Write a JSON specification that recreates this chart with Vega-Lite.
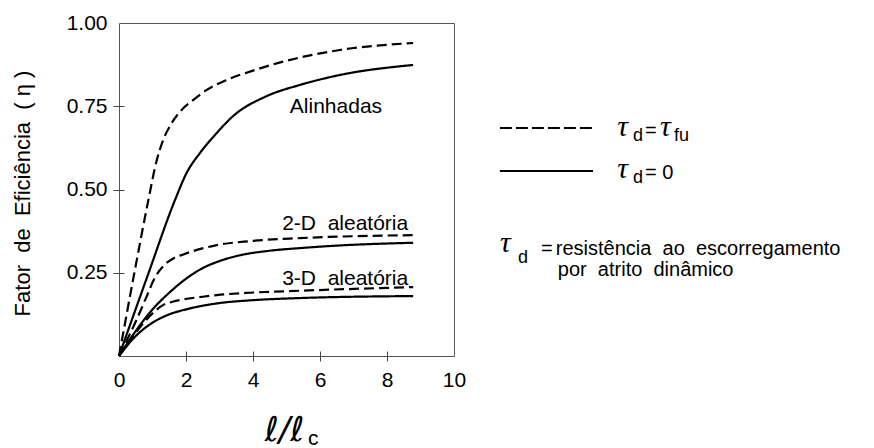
{
  "$schema": "https://vega.github.io/schema/vega-lite/v6.json",
  "width": 335,
  "height": 333,
  "autosize": {"type": "none"},
  "padding": {"left": 119, "top": 23, "right": 420, "bottom": 92},
  "background": "white",
  "config": {
    "view": {"stroke": "#555", "strokeWidth": 1},
    "font": "Liberation Sans",
    "axis": {"grid": false, "domain": false, "labelFont": "Liberation Sans", "labelFontSize": 21, "labelColor": "black", "labelFlush": false, "labelOverlap": false, "tickColor": "#444", "tickWidth": 1, "titleColor": "black"}
  },
  "datasets": {
    "curves": [
      {"series": "Alinhadas", "cond": "fu", "x": 0, "y": 0},
      {"series": "Alinhadas", "cond": "fu", "x": 0.45, "y": 0.245},
      {"series": "Alinhadas", "cond": "fu", "x": 0.88, "y": 0.47},
      {"series": "Alinhadas", "cond": "fu", "x": 1.12, "y": 0.585},
      {"series": "Alinhadas", "cond": "fu", "x": 1.32, "y": 0.649},
      {"series": "Alinhadas", "cond": "fu", "x": 1.57, "y": 0.699},
      {"series": "Alinhadas", "cond": "fu", "x": 1.87, "y": 0.739},
      {"series": "Alinhadas", "cond": "fu", "x": 2.22, "y": 0.769},
      {"series": "Alinhadas", "cond": "fu", "x": 2.62, "y": 0.799},
      {"series": "Alinhadas", "cond": "fu", "x": 3.21, "y": 0.829},
      {"series": "Alinhadas", "cond": "fu", "x": 3.91, "y": 0.854},
      {"series": "Alinhadas", "cond": "fu", "x": 4.9, "y": 0.884},
      {"series": "Alinhadas", "cond": "fu", "x": 6.6, "y": 0.919},
      {"series": "Alinhadas", "cond": "fu", "x": 8.78, "y": 0.94},
      {"series": "Alinhadas", "cond": "0", "x": 0, "y": 0},
      {"series": "Alinhadas", "cond": "0", "x": 0.85, "y": 0.24},
      {"series": "Alinhadas", "cond": "0", "x": 1.67, "y": 0.468},
      {"series": "Alinhadas", "cond": "0", "x": 2.02, "y": 0.55},
      {"series": "Alinhadas", "cond": "0", "x": 2.42, "y": 0.61},
      {"series": "Alinhadas", "cond": "0", "x": 2.92, "y": 0.67},
      {"series": "Alinhadas", "cond": "0", "x": 3.4, "y": 0.72},
      {"series": "Alinhadas", "cond": "0", "x": 4.4, "y": 0.78},
      {"series": "Alinhadas", "cond": "0", "x": 5.4, "y": 0.814},
      {"series": "Alinhadas", "cond": "0", "x": 6.6, "y": 0.844},
      {"series": "Alinhadas", "cond": "0", "x": 8.78, "y": 0.874},
      {"series": "2D", "cond": "fu", "x": 0, "y": 0},
      {"series": "2D", "cond": "fu", "x": 0.53, "y": 0.11},
      {"series": "2D", "cond": "fu", "x": 0.83, "y": 0.18},
      {"series": "2D", "cond": "fu", "x": 1.07, "y": 0.235},
      {"series": "2D", "cond": "fu", "x": 1.32, "y": 0.27},
      {"series": "2D", "cond": "fu", "x": 1.62, "y": 0.293},
      {"series": "2D", "cond": "fu", "x": 1.92, "y": 0.305},
      {"series": "2D", "cond": "fu", "x": 2.92, "y": 0.333},
      {"series": "2D", "cond": "fu", "x": 3.9, "y": 0.345},
      {"series": "2D", "cond": "fu", "x": 5.4, "y": 0.354},
      {"series": "2D", "cond": "fu", "x": 8.78, "y": 0.363},
      {"series": "2D", "cond": "0", "x": 0, "y": 0},
      {"series": "2D", "cond": "0", "x": 0.5, "y": 0.075},
      {"series": "2D", "cond": "0", "x": 1.0, "y": 0.14},
      {"series": "2D", "cond": "0", "x": 1.5, "y": 0.19},
      {"series": "2D", "cond": "0", "x": 2.0, "y": 0.232},
      {"series": "2D", "cond": "0", "x": 2.5, "y": 0.264},
      {"series": "2D", "cond": "0", "x": 3.0, "y": 0.285},
      {"series": "2D", "cond": "0", "x": 3.5, "y": 0.3},
      {"series": "2D", "cond": "0", "x": 4.4, "y": 0.315},
      {"series": "2D", "cond": "0", "x": 5.4, "y": 0.324},
      {"series": "2D", "cond": "0", "x": 6.6, "y": 0.332},
      {"series": "2D", "cond": "0", "x": 8.78, "y": 0.34},
      {"series": "3D", "cond": "fu", "x": 0, "y": 0},
      {"series": "3D", "cond": "fu", "x": 0.5, "y": 0.07},
      {"series": "3D", "cond": "fu", "x": 1.0, "y": 0.128},
      {"series": "3D", "cond": "fu", "x": 1.3, "y": 0.152},
      {"series": "3D", "cond": "fu", "x": 1.6, "y": 0.163},
      {"series": "3D", "cond": "fu", "x": 1.92, "y": 0.17},
      {"series": "3D", "cond": "fu", "x": 2.5, "y": 0.178},
      {"series": "3D", "cond": "fu", "x": 2.92, "y": 0.183},
      {"series": "3D", "cond": "fu", "x": 3.9, "y": 0.19},
      {"series": "3D", "cond": "fu", "x": 5.4, "y": 0.196},
      {"series": "3D", "cond": "fu", "x": 8.78, "y": 0.207},
      {"series": "3D", "cond": "0", "x": 0, "y": 0},
      {"series": "3D", "cond": "0", "x": 0.5, "y": 0.06},
      {"series": "3D", "cond": "0", "x": 1.0, "y": 0.1},
      {"series": "3D", "cond": "0", "x": 1.5, "y": 0.125},
      {"series": "3D", "cond": "0", "x": 2.0, "y": 0.14},
      {"series": "3D", "cond": "0", "x": 2.5, "y": 0.151},
      {"series": "3D", "cond": "0", "x": 3.0, "y": 0.159},
      {"series": "3D", "cond": "0", "x": 3.9, "y": 0.167},
      {"series": "3D", "cond": "0", "x": 5.4, "y": 0.174},
      {"series": "3D", "cond": "0", "x": 8.78, "y": 0.18}
    ],
    "legend_lines": [
      {"cond": "fu", "x": 11.37, "y": 0.6847},
      {"cond": "fu", "x": 14.15, "y": 0.6847},
      {"cond": "0", "x": 11.37, "y": 0.5556},
      {"cond": "0", "x": 14.15, "y": 0.5556}
    ],
    "curve_labels": [
      {"x": 5.1, "y": 0.73, "text": "Alinhadas"},
      {"x": 4.87, "y": 0.378, "text": "2-D\u00a0 aleatória"},
      {"x": 4.87, "y": 0.213, "text": "3-D\u00a0 aleatória"},
      {"x": 5.64, "y": -0.267, "text": "c"}
    ],
    "legend_text": [
      {"x": 15.7, "y": 0.6577, "text": "="},
      {"x": 15.7, "y": 0.5315, "text": "= 0"},
      {"x": 12.6, "y": 0.3033, "text": "="},
      {"x": 13.04, "y": 0.3033, "text": "resistência\u00a0 ao\u00a0 escorregamento"},
      {"x": 13.1, "y": 0.2402, "text": "por\u00a0 atrito\u00a0 dinâmico"}
    ],
    "tau": [
      {"x": 14.87, "y": 0.6607, "text": "τ"},
      {"x": 16.15, "y": 0.6607, "text": "τ"},
      {"x": 14.87, "y": 0.5345, "text": "τ"},
      {"x": 11.37, "y": 0.3123, "text": "τ"}
    ],
    "subs": [
      {"x": 15.34, "y": 0.6456, "text": "d"},
      {"x": 16.57, "y": 0.6456, "text": "fu"},
      {"x": 15.34, "y": 0.5195, "text": "d"},
      {"x": 11.91, "y": 0.2793, "text": "d"}
    ]
  },
  "encoding": {
    "x": {
      "field": "x", "type": "quantitative",
      "scale": {"domain": [0, 10], "nice": false, "zero": false},
      "axis": {
        "values": [0, 2, 4, 6, 8, 10], "format": "d", "offset": -5, "tickSize": 10, "labelPadding": 8,
        "tickOpacity": {"condition": {"test": "datum.value == 0 || datum.value == 10", "value": 0}, "value": 1},
        "title": "ℓ/ℓ", "titleFont": "DejaVu Sans", "titleFontStyle": "italic", "titleFontWeight": 200, "titleFontSize": 34,
        "titleX": 165, "titleY": 89, "titleBaseline": "alphabetic", "titleAlign": "center"
      }
    },
    "y": {
      "field": "y", "type": "quantitative",
      "scale": {"domain": [0, 1], "nice": false, "zero": false},
      "axis": {
        "values": [0.25, 0.5, 0.75, 1], "format": ".2f", "offset": -5, "tickSize": 11, "labelPadding": 6,
        "tickOpacity": {"condition": {"test": "datum.value == 1", "value": 0}, "value": 1},
        "title": "Fator\u00a0 de\u00a0 Eficiência\u00a0 ( η )", "titleFont": "Liberation Sans", "titleFontWeight": "normal", "titleFontSize": 22,
        "titleX": -102, "titleY": 170, "titleAngle": -90, "titleBaseline": "middle", "titleAlign": "center"
      }
    }
  },
  "layer": [
    {
      "data": {"name": "curves"},
      "mark": {"type": "line", "color": "black", "strokeWidth": 2.2, "interpolate": "monotone"},
      "encoding": {
        "detail": {"field": "series"},
        "strokeDash": {"field": "cond", "type": "nominal", "scale": {"domain": ["fu", "0"], "range": [[10, 5], [1, 0]]}, "legend": null}
      }
    },
    {
      "data": {"name": "legend_lines"},
      "transform": [{"filter": "datum.cond == 'fu'"}],
      "mark": {"type": "line", "color": "black", "strokeWidth": 2.2, "strokeDash": [12, 4]},
      "encoding": {}
    },
    {
      "data": {"name": "legend_lines"},
      "transform": [{"filter": "datum.cond == '0'"}],
      "mark": {"type": "line", "color": "black", "strokeWidth": 2.2},
      "encoding": {}
    },
    {
      "data": {"name": "curve_labels"},
      "mark": {"type": "text", "align": "left", "baseline": "alphabetic", "fontSize": 21, "font": "Liberation Sans", "color": "black"},
      "encoding": {"text": {"field": "text"}}
    },
    {
      "data": {"name": "legend_text"},
      "mark": {"type": "text", "align": "left", "baseline": "alphabetic", "fontSize": 20, "font": "Liberation Sans", "color": "black"},
      "encoding": {"text": {"field": "text"}}
    },
    {
      "data": {"name": "tau"},
      "mark": {"type": "text", "align": "left", "baseline": "alphabetic", "fontSize": 30, "font": "Liberation Serif", "fontStyle": "italic", "color": "black"},
      "encoding": {"text": {"field": "text"}}
    },
    {
      "data": {"name": "subs"},
      "mark": {"type": "text", "align": "left", "baseline": "alphabetic", "fontSize": 18, "font": "Liberation Sans", "color": "black"},
      "encoding": {"text": {"field": "text"}}
    }
  ]
}
